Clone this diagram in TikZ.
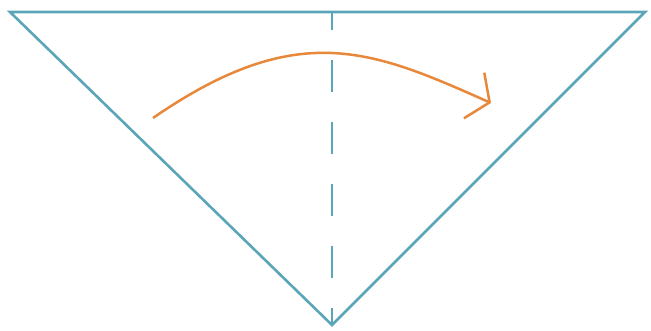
\documentclass[tikz,border=0pt]{standalone}
\usetikzlibrary{arrows.meta}
\definecolor{foldteal}{HTML}{5AA5B8}
\definecolor{foldorange}{HTML}{E8883A}
\begin{document}
\begin{tikzpicture}[x=1pt,y=-1pt,
  edge/.style={draw=foldteal,line width=2.6pt,line join=miter},
  foldline/.style={draw=foldteal,line width=2.4pt,dash pattern=on 32pt off 30pt,dash phase=14pt},
  turn/.style={draw=foldorange,line width=2.5pt,-{Straight Barb[length=17pt,width=50pt,line width=2.5pt]}}]
\useasboundingbox (0,0) rectangle (651,330);
\fill[white] (0,0) rectangle (651,330);
\coordinate (tl) at (10,12);
\coordinate (tr) at (645,12);
\coordinate (bot) at (332,325);
\coordinate (tm) at (332,12);
\coordinate (s) at (153,118);
\coordinate (e) at (491,103);
\draw[foldline] (tm) -- (bot);
\draw[edge] (tl) -- (tr) -- (bot) -- cycle;
\draw[turn] (s) .. controls (298,18) and (372,50) .. (e);
\end{tikzpicture}
\end{document}
